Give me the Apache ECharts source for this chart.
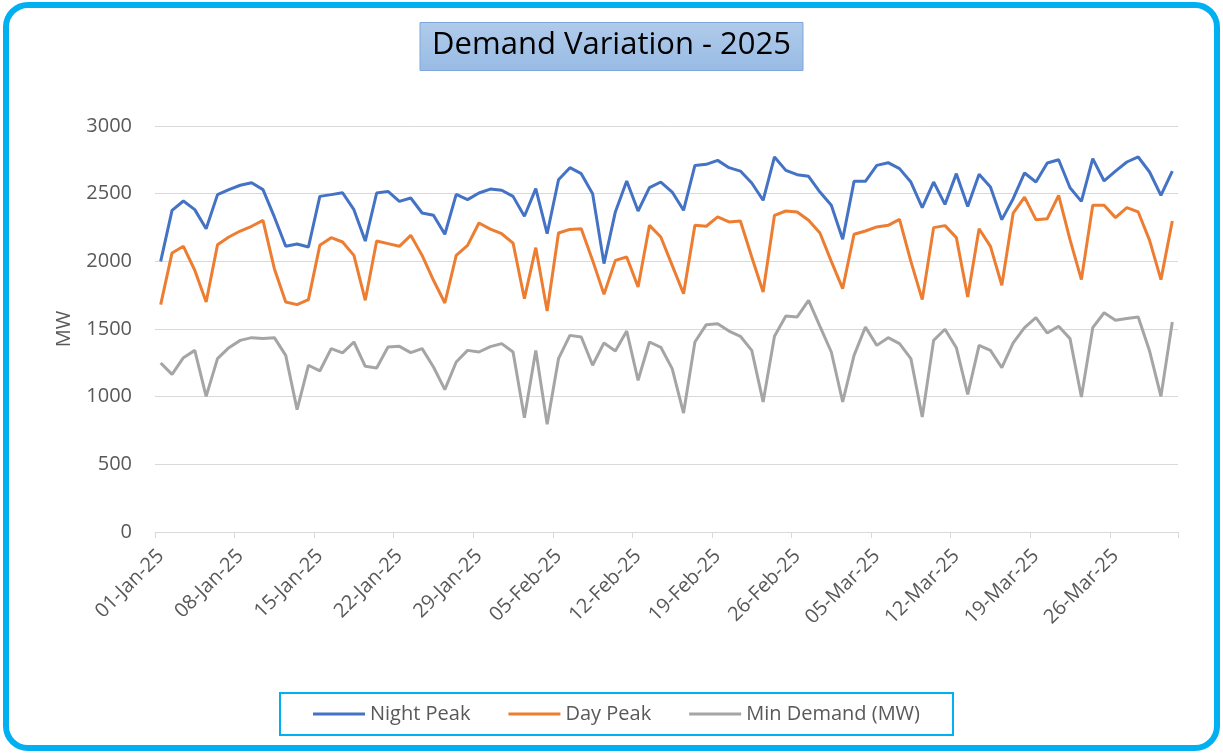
<!DOCTYPE html>
<html>
<head>
<meta charset="utf-8">
<script src="https://cdn.jsdelivr.net/npm/echarts@6/dist/echarts.min.js"></script>
<style>
  html, body { margin: 0; padding: 0; background: #fff; }
  #chart { width: 1223px; height: 753px; }
</style>
</head>
<body>
<div id="chart"></div>
<script>
// daily values, 01-Jan-25 .. 31-Mar-25
var nightPeak = [2000, 2377, 2446, 2382, 2241, 2493, 2530, 2562, 2581, 2530, 2328, 2111, 2128, 2106, 2480,
  2493, 2507, 2382, 2150, 2505, 2517, 2443, 2468, 2357, 2340, 2200, 2495, 2456, 2505, 2534,
  2525, 2480, 2333, 2537, 2204, 2603, 2692, 2648, 2500, 1983, 2365, 2594, 2372, 2544, 2586,
  2512, 2377, 2709, 2717, 2746, 2692, 2667, 2579, 2451, 2771, 2672, 2640, 2628, 2512, 2414,
  2163, 2591, 2591, 2709, 2729, 2685, 2586, 2397, 2586, 2421, 2648, 2406, 2643, 2549, 2308,
  2463, 2653, 2586, 2727, 2751, 2544, 2443, 2759, 2594, 2667, 2734, 2771, 2660, 2488, 2667]
var dayPeak = [1680, 2062, 2111, 1934, 1700, 2123, 2180, 2224, 2259, 2303, 1946, 1700, 1680, 1717, 2118,
  2175, 2143, 2044, 1712, 2150, 2131, 2111, 2192, 2044, 1860, 1692, 2044, 2118, 2283, 2238,
  2204, 2135, 1724, 2101, 1633, 2209, 2236, 2241, 2007, 1756, 2007, 2032, 1810, 2266, 2180,
  1970, 1761, 2266, 2259, 2328, 2291, 2298, 2032, 1773, 2340, 2372, 2365, 2303, 2209, 2000,
  1798, 2200, 2224, 2254, 2266, 2310, 2000, 1717, 2249, 2264, 2175, 1736, 2241, 2111, 1823,
  2357, 2475, 2308, 2315, 2488, 2160, 1865, 2414, 2414, 2323, 2397, 2365, 2155, 1865, 2298]
var minDemand = [1249, 1165, 1288, 1342, 1002, 1281, 1362, 1416, 1436, 1429, 1436, 1305, 904, 1232, 1190,
  1355, 1323, 1404, 1224, 1212, 1367, 1372, 1325, 1355, 1219, 1052, 1256, 1342, 1330, 1370,
  1392, 1330, 845, 1342, 796, 1281, 1453, 1441, 1232, 1397, 1337, 1485, 1121, 1404, 1365,
  1207, 879, 1404, 1532, 1539, 1485, 1446, 1342, 961, 1446, 1596, 1589, 1712, 1520, 1330,
  961, 1305, 1515, 1379, 1436, 1392, 1281, 850, 1416, 1498, 1362, 1017, 1379, 1342, 1214,
  1397, 1510, 1584, 1470, 1520, 1429, 998, 1510, 1620, 1564, 1577, 1589, 1337, 1002, 1552]
var seriesNames = ['Night Peak', 'Day Peak', 'Min Demand (MW)']
var months = ['Jan', 'Feb', 'Mar']
var monthDays = [31, 28, 31]

var dates = []
for (var m = 0; m < months.length; m++) {
  for (var d = 1; d <= monthDays[m]; d++) {
    dates.push((d < 10 ? '0' + d : '' + d) + '-' + months[m] + '-25')
  }
}

var FONT = 'Open Sans'
var chart = echarts.init(document.getElementById('chart'))
var option = {
  backgroundColor: '#fff',
  animation: false,
  title: {
    text: 'Demand Variation - 2025',
    left: 'center',
    top: 22,
    padding: [8, 12, 10, 12],
    backgroundColor: new echarts.graphic.LinearGradient(0, 0, 0, 1, [
      { offset: 0, color: '#b0cbeb' },
      { offset: 1, color: '#98bbe4' }
    ]),
    borderColor: '#7ea7d8',
    borderWidth: 1,
    textStyle: {
      fontFamily: FONT,
      fontSize: 31,
      fontWeight: 'normal',
      color: '#000'
    }
  },
  graphic: [{
    type: 'rect',
    shape: { x: 6, y: 5, width: 1211, height: 743, r: 22 },
    style: { fill: 'none', stroke: '#00B0F0', lineWidth: 6 },
    silent: true
  }],
  legend: {
    data: seriesNames,
    left: 280,
    top: 693,
    padding: [11, 33],
    itemGap: 38,
    itemWidth: 52,
    itemHeight: 3,
    icon: 'rect',
    borderColor: '#00B0F0',
    borderWidth: 2,
    textStyle: { fontFamily: FONT, fontSize: 20, color: '#595959' }
  },
  grid: {
    left: 155,
    right: 45,
    top: 126,
    bottom: 221
  },
  xAxis: {
    type: 'category',
    data: dates,
    boundaryGap: true,
    axisLine: { lineStyle: { color: '#d9d9d9', width: 1 } },
    axisTick: { show: true, interval: 6, length: 6, lineStyle: { color: '#d9d9d9' } },
    axisLabel: {
      interval: 6,
      rotate: 45,
      margin: 21,
      fontFamily: FONT,
      fontSize: 20,
      color: '#595959'
    }
  },
  yAxis: {
    type: 'value',
    min: 0,
    max: 3000,
    interval: 500,
    name: 'MW',
    nameLocation: 'middle',
    nameGap: 81,
    nameTextStyle: { fontFamily: FONT, fontSize: 20, color: '#595959' },
    axisLine: { show: false },
    axisTick: { show: false },
    splitLine: { lineStyle: { color: '#d9d9d9', width: 1 } },
    axisLabel: {
      margin: 23,
      fontFamily: FONT,
      fontSize: 20,
      color: '#595959',
      formatter: function (v) { return '' + v }
    }
  },
  series: [
    { name: seriesNames[0], type: 'line', data: nightPeak, symbol: 'none', lineStyle: { width: 3, color: '#4472C4' }, itemStyle: { color: '#4472C4' } },
    { name: seriesNames[1], type: 'line', data: dayPeak, symbol: 'none', lineStyle: { width: 3, color: '#ED7D31' }, itemStyle: { color: '#ED7D31' } },
    { name: seriesNames[2], type: 'line', data: minDemand, symbol: 'none', lineStyle: { width: 3, color: '#A5A5A5' }, itemStyle: { color: '#A5A5A5' } }
  ]
}
chart.setOption(option)
</script>
</body>
</html>
